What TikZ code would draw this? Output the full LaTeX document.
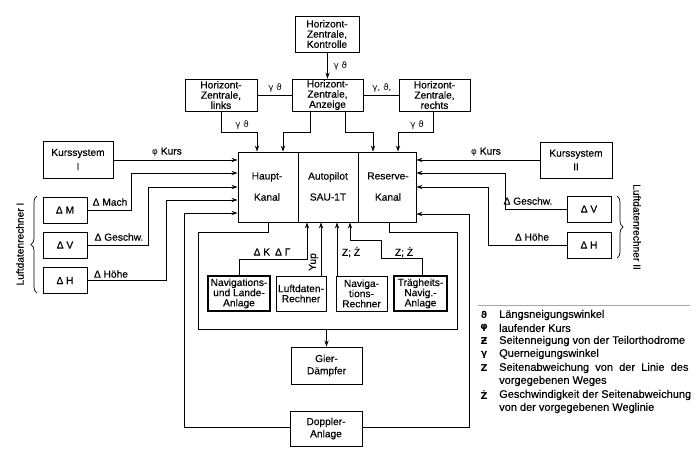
\documentclass[tikz,border=0pt]{standalone}
\usepackage{fontspec}
\setmainfont[FakeBold=0.35]{Liberation Sans}
\newfontfamily\dejavu{DejaVu Sans}
\usetikzlibrary{arrows.meta,decorations.pathreplacing}
\newcommand{\grk}[1]{{\dejavu\fontsize{8.8}{10}\selectfont #1}}
\begin{document}
\begin{tikzpicture}[x=1pt,y=-1pt,
  box/.style={draw,line width=0.9pt,align=center,inner sep=0pt,font=\fontsize{10.2}{10.2}\selectfont},
  boldbox/.style={box,line width=1.4pt},
  lbl/.style={font=\fontsize{10.2}{10.5}\selectfont,inner sep=0.5pt},
  leg/.style={font=\fontsize{11}{11}\selectfont,inner sep=0pt,anchor=west},
  legsym/.style={font=\dejavu\bfseries\fontsize{9.5}{10}\selectfont,inner sep=0pt},
  conn/.style={line width=0.75pt},
  arr/.style={conn,-{Stealth[length=6pt,width=4.2pt]}},
  br/.style={line width=0.7pt,decorate,decoration={brace,amplitude=6pt}},
]
\useasboundingbox (0,0) rectangle (700,459);

% --- top boxes
\node[box,minimum width=64pt,minimum height=36pt] (kontr) at (327,34) {Horizont-\\Zentrale,\\Kontrolle};
\node[box,minimum width=71pt,minimum height=32pt] (anz) at (327.5,95) {Horizont-\\Zentrale,\\Anzeige};
\node[box,minimum width=72pt,minimum height=32pt] (links) at (221,95) {Horizont-\\Zentrale,\\links};
\node[box,minimum width=71pt,minimum height=32pt] (rechts) at (434.5,95) {Horizont-\\Zentrale,\\rechts};

% --- main box
\node[draw,line width=0.9pt,minimum width=178pt,minimum height=70pt,inner sep=0pt] (main) at (327,187) {};
\draw[line width=0.9pt] (main.north -| 298,0) -- (main.south -| 298,0);
\draw[line width=0.9pt] (main.north -| 358,0) -- (main.south -| 358,0);
\node[lbl] (t1) at (267,177) {Haupt-};
\node[lbl] (t2) at (267,197) {Kanal};
\node[lbl] (t3) at (328,177) {Autopilot};
\node[lbl] (t4) at (328,197) {SAU-1T};
\node[lbl] (t5) at (388,176) {Reserve-};
\node[lbl] (t6) at (388,197) {Kanal};

% --- left boxes
\node[box,minimum width=70pt,minimum height=37pt] (ks1) at (78,159.5) {Kurssystem\\[4pt]I};
\node[box,minimum width=44pt,minimum height=26pt] (dm) at (65,210) {Δ M};
\node[box,minimum width=44pt,minimum height=26pt] (dv) at (65,245) {Δ V};
\node[box,minimum width=44pt,minimum height=26pt] (dh) at (65,280.5) {Δ H};
\draw[br] (37,293) -- (37,196);
\node[lbl,rotate=90] (ldr1) at (20,244) {Luftdatenrechner I};

% --- right boxes
\node[box,minimum width=72pt,minimum height=36pt] (ks2) at (576,160) {Kurssystem\\[3.5pt]II};
\node[box,minimum width=44pt,minimum height=26pt] (dv2) at (589,209) {Δ V};
\node[box,minimum width=44pt,minimum height=26pt] (dh2) at (589,245) {Δ H};
\draw[br] (617,196) -- (617,258);
\node[lbl,rotate=-90] (ldr2) at (637,227) {Luftdatenrechner II};

% --- bottom boxes
\node[boldbox,minimum width=62pt,minimum height=35pt] (navl) at (239,293.5) {Navigations-\\und Lande-\\Anlage};
\node[box,minimum width=50pt,minimum height=35pt] (luft) at (301,293.5) {Luftdaten-\\Rechner};
\node[box,minimum width=51pt,minimum height=35pt] (navr) at (361.5,293.5) {Naviga-\\tions-\\Rechner};
\node[boldbox,minimum width=53pt,minimum height=35pt] (trag) at (420.5,293.5) {Trägheits-\\Navig.-\\Anlage};
\node[box,minimum width=71pt,minimum height=37pt] (gier) at (326.5,365.5) {Gier-\\[2pt]Dämpfer};
\node[box,minimum width=72pt,minimum height=35pt] (dop) at (326,428.5) {Doppler-\\[2pt]Anlage};

% --- top connectors
\draw[arr] (kontr.south -| anz.north) -- (anz.north);
\node[lbl,anchor=west] (l1) at (333,66) {\grk{γ ϑ}};
\draw[conn] (links.east) -- (anz.west);
\node[lbl] (l2) at (275,88) {\grk{γ ϑ}};
\draw[conn] (anz.east) -- (rechts.west);
\node[lbl] (l3) at (382,88) {\grk{γ, ϑ,}};
\draw[arr] (links.south) |- (257,132) -- (main.north -| 257,0);
\node[lbl] (l4) at (242,125) {\grk{γ ϑ}};
\draw[arr] (anz.south -| 310,0) |- (283,132) -- (main.north -| 283,0);
\draw[arr] (anz.south -| 345,0) |- (373,132) -- (main.north -| 373,0);
\draw[arr] (rechts.south -| 433,0) |- (398,132) -- (main.north -| 398,0);
\node[lbl] (l5) at (417,125) {\grk{γ ϑ}};

% --- left connectors
\draw[arr] (ks1.east |- 0,160) -- (main.west |- 0,160);
\node[lbl] (l6) at (167,152) {\grk{φ} Kurs};
\draw[arr] (dm.east) -| (131,173) -- (main.west |- 0,173);
\node[lbl] (l7) at (110,202) {Δ Mach};
\draw[arr] (dv.east) -| (148,187) -- (main.west |- 0,187);
\node[lbl] (l8) at (119,237) {Δ Geschw.};
\draw[arr] (dh.east) -| (166,200) -- (main.west |- 0,200);
\node[lbl] (l9) at (111,274) {Δ Höhe};
\draw[arr] (dop.west |- 0,427) -| (184,213) -- (main.west |- 0,213);

% --- right connectors
\draw[arr] (ks2.west |- 0,160) -- (main.east |- 0,160);
\node[lbl] (l10) at (486,152) {\grk{φ} Kurs};
\draw[arr] (dv2.west) -| (505,173) -- (main.east |- 0,173);
\node[lbl] (l11) at (528,201) {Δ Geschw.};
\draw[arr] (dh2.west) -| (488,187) -- (main.east |- 0,187);
\node[lbl] (l12) at (532,237) {Δ Höhe};
\draw[arr] (dop.east |- 0,427) -| (469,214) -- (main.east |- 0,214);

% --- bottom connectors
\draw[conn] (main.south -| 268,0) |- (198,232) |- (457,329) |- (389,232) -- (main.south -| 389,0);
\draw[arr] (gier.north |- 0,329) -- (gier.north);
\draw[arr] (navl.north) |- (307,259) -- (main.south -| 307,0);
\node[lbl] (l13) at (272,252) {Δ K\hspace{5pt}Δ Γ};
\draw[arr] (luft.north -| 321,0) -- (main.south -| 321,0);
\node[lbl,rotate=90] (l14) at (313.5,262) {Yup};
\draw[arr] (navr.north -| 337,0) -- (main.south -| 337,0);
\node[lbl] (l15) at (351,252) {Z; Ż};
\draw[arr] (trag.north -| 422,0) |- (381,258) |- (350,240) -- (main.south -| 350,0);
\node[lbl] (l16) at (404,252) {Z; Ż};

% --- legend
\draw[line width=0.4pt,black!35] (478,305) -- (690,305);
\node[legsym] (s1) at (484,315) {ϑ};
\node[leg] (g1) at (499,315) {Längsneigungswinkel};
\node[legsym] (s2) at (484,328) {φ};
\node[leg] (g2) at (499,328) {laufender Kurs};
\node[legsym] (s3) at (484,341) {Ƶ};
\node[leg] (g3) at (499,341) {Seitenneigung von der Teilorthodrome};
\node[legsym] (s4) at (484,355) {γ};
\node[leg] (g4) at (499,354) {Querneigungswinkel};
\node[legsym] (s5) at (484,368) {Z};
\node[leg] (g5) at (499,368) {Seitenabweichung\hspace{6.2pt}von\hspace{6.2pt}der\hspace{6.2pt}Linie\hspace{6.2pt}des};
\node[leg] (g5b) at (499,381) {vorgegebenen Weges};
\node[legsym] (s6) at (484,395) {Ż};
\node[leg] (g6) at (499,395) {Geschwindigkeit der Seitenabweichung};
\node[leg] (g6b) at (499,408) {von der vorgegebenen Weglinie};
\end{tikzpicture}
\end{document}
